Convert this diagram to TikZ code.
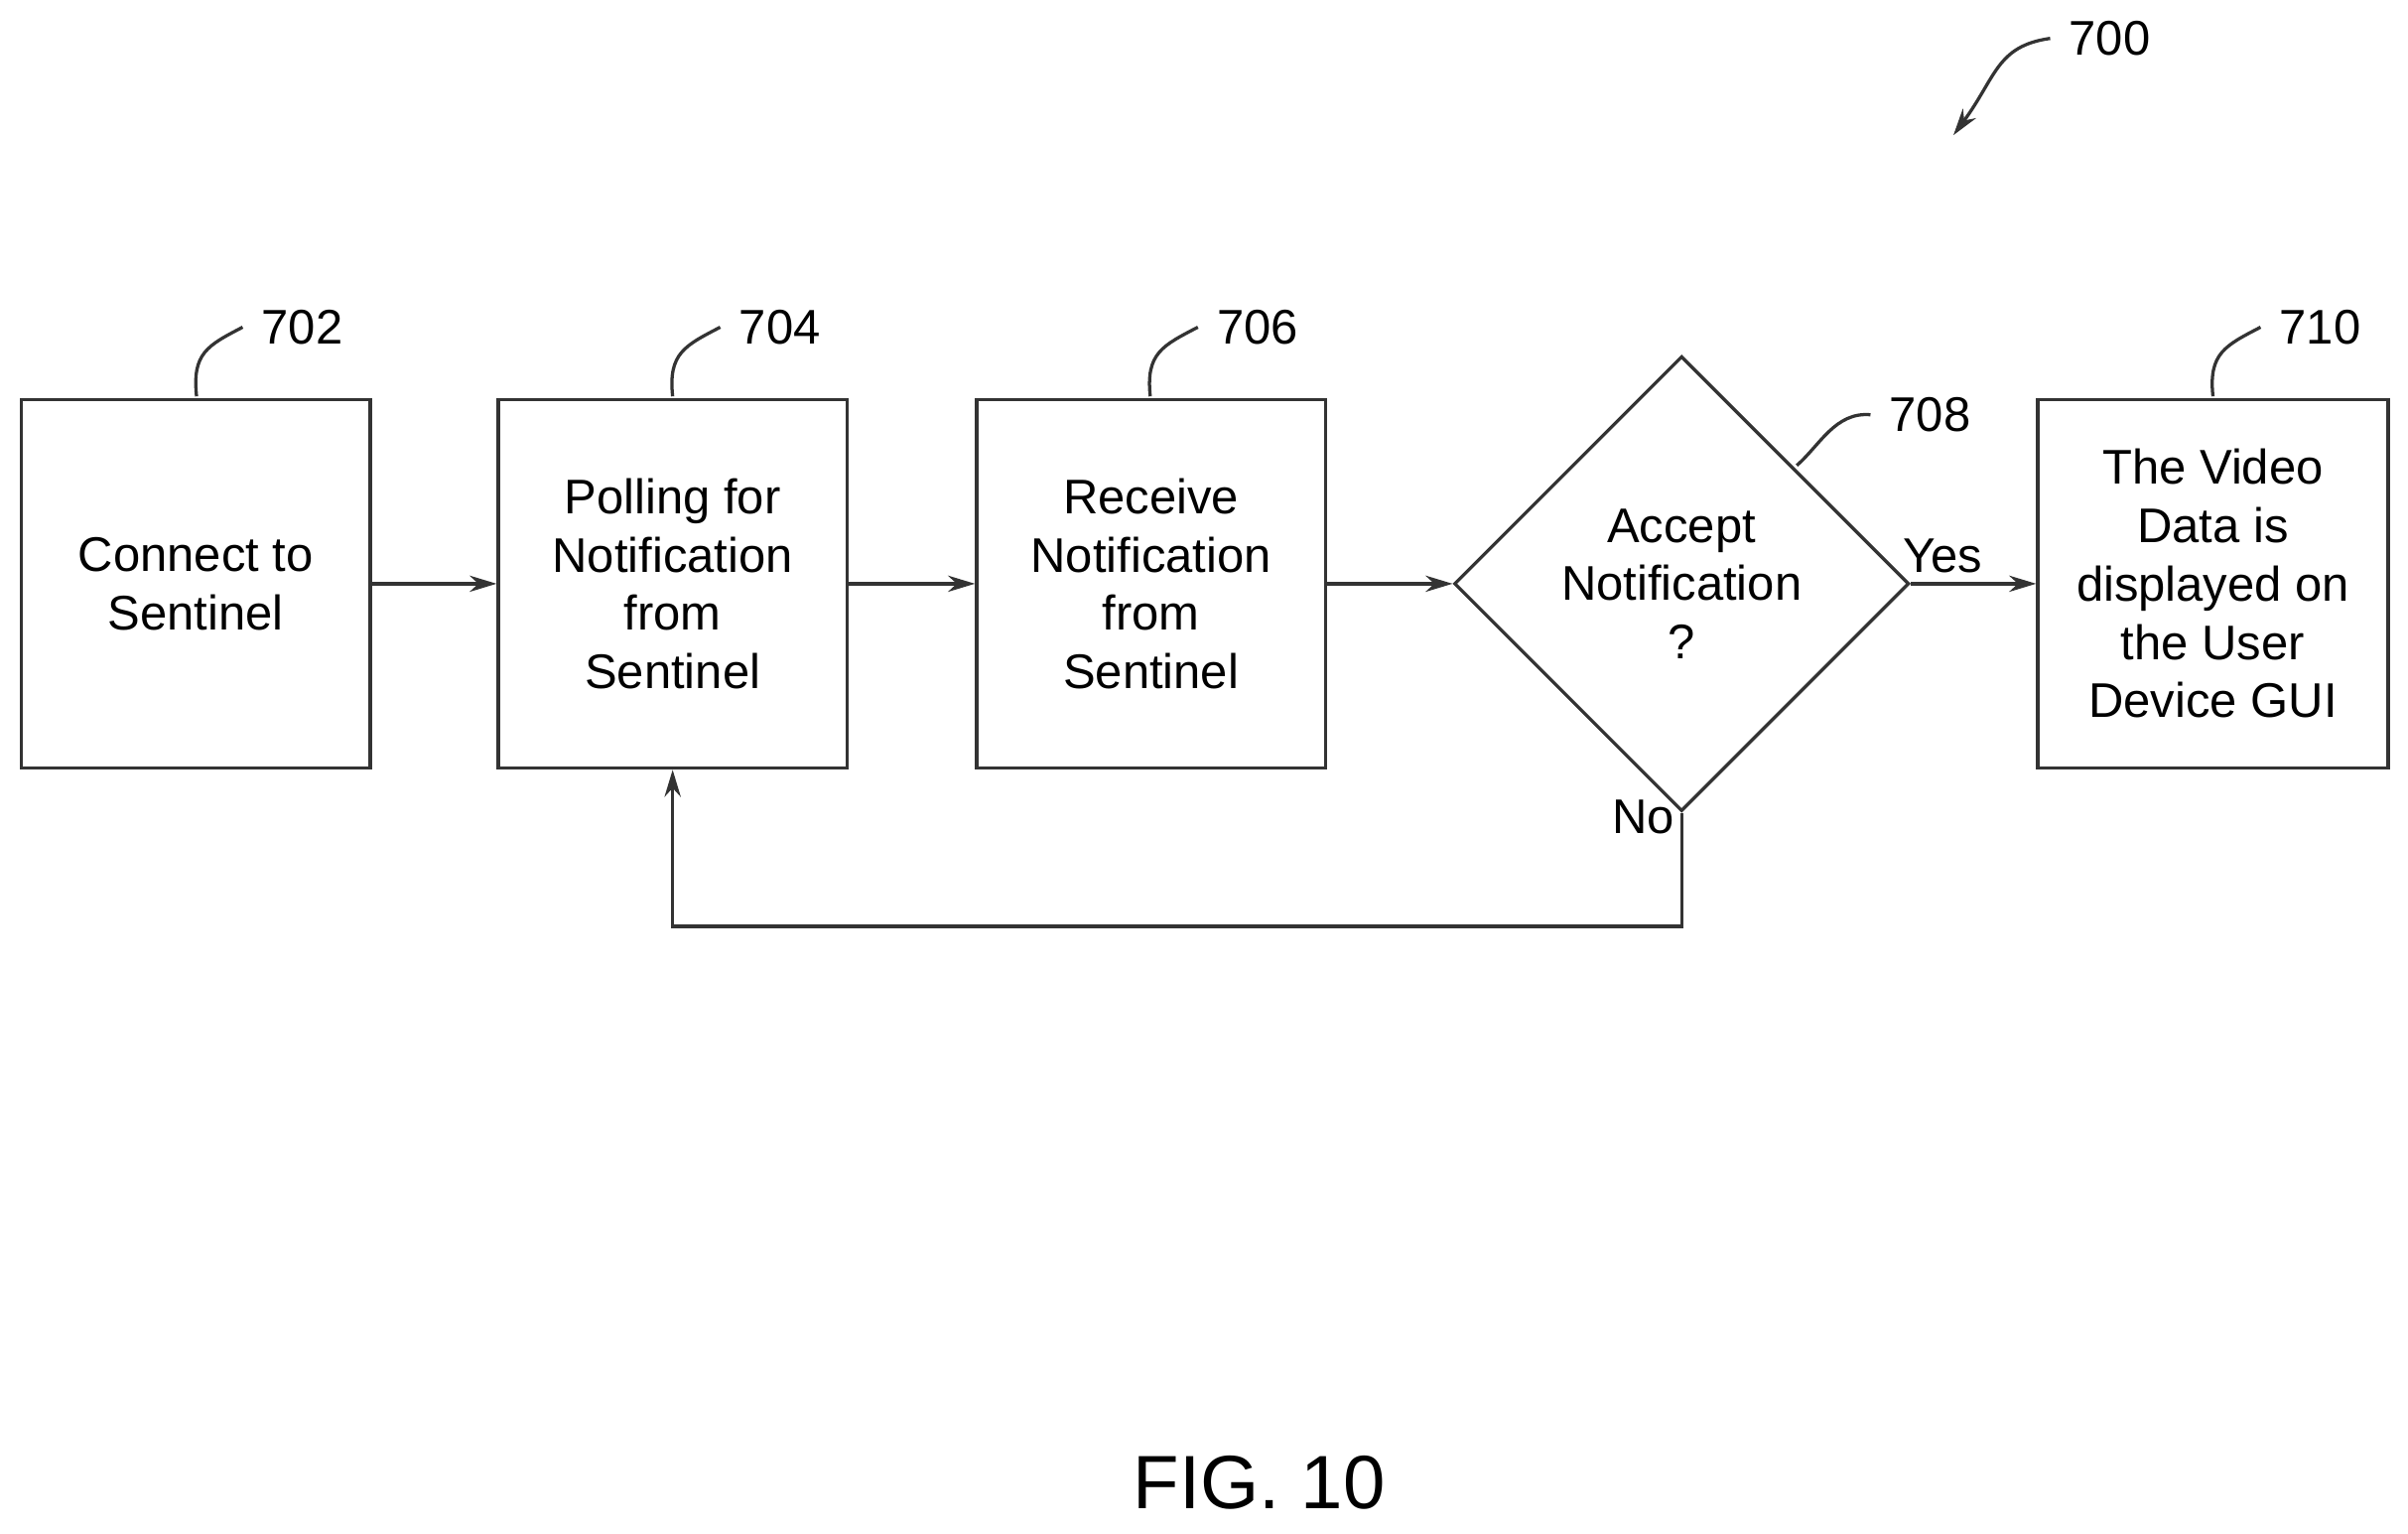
\documentclass[tikz,border=0pt]{standalone}
\usepackage{fontspec}
\setmainfont{Liberation Sans}
\usetikzlibrary{shapes.geometric,arrows.meta}
\begin{document}
\begin{tikzpicture}[x=0.01cm,y=-0.01cm,
  box/.style={draw=black!80,line width=0.6pt,minimum width=2.27cm,minimum height=2.4cm,align=center,font=\fontsize{9}{10.8}\selectfont,inner sep=0pt},
  lbl/.style={font=\fontsize{9}{10.8}\selectfont},
  arr/.style={draw=black!80,line width=0.6pt,-{Stealth[length=5pt,width=3pt]}},
  lead/.style={draw=black!80,line width=0.6pt}]
\useasboundingbox (0,0) rectangle (1568,998);
\node[box] (b702) at (127.5,380) {Connect to\\Sentinel};
\node[box] (b704) at (438,380) {Polling for\\Notification\\from\\Sentinel};
\node[box] (b706) at (749.5,380) {Receive\\Notification\\from\\Sentinel};
\node[diamond,draw=black!80,line width=0.6pt,minimum width=2.96cm,minimum height=2.96cm,inner sep=0pt,align=center,font=\fontsize{9}{10.8}\selectfont] (d708) at (1095,380) {};
\node[align=center,font=\fontsize{9}{10.8}\selectfont] at (1095,380) {Accept\\Notification\\?};
\node[box,minimum width=2.28cm] (b710) at (1441,380) {The Video\\Data is\\displayed on\\the User\\Device GUI};
\draw[arr] (b702) -- (b704);
\draw[arr] (b704) -- (b706);
\draw[arr] (b706) -- (d708.west);
\draw[arr] (d708.east) -- (b710);
\coordinate (c1) at (1095,603);
\coordinate (c2) at (438,603);
\draw[arr] (d708.south) -- (c1) -- (c2) -- (b704.south);
\node[lbl] (yes) at (1265,362) {Yes};
\node[lbl] (no) at (1070,532) {No};
% reference numerals
\node[lbl,anchor=west] (n702) at (158,213) {702};
\draw[lead] (128,258) .. controls (125,230) and (135,225) .. (n702.west);
\node[lbl,anchor=west] (n704) at (469,213) {704};
\draw[lead] (438,258) .. controls (435,230) and (446,225) .. (n704.west);
\node[lbl,anchor=west] (n706) at (780,213) {706};
\draw[lead] (749,258) .. controls (746,230) and (757,225) .. (n706.west);
\node[lbl,anchor=west] (n710) at (1472,213) {710};
\draw[lead] (1441,258) .. controls (1438,230) and (1449,225) .. (n710.west);
\node[lbl,anchor=west] (n708) at (1218,270) {708};
\draw[lead] (1170,303) .. controls (1185,290) and (1195,268) .. (n708.west);
\node[lbl,anchor=west] (n700) at (1335,25) {700};
\coordinate (a700) at (1272,88);
\draw[arr] (n700.west) .. controls (1300,30) and (1300,50) .. (a700);
\node[font=\fontsize{14}{16}\selectfont] (fig) at (820,965) {FIG. 10};
\end{tikzpicture}
\end{document}
